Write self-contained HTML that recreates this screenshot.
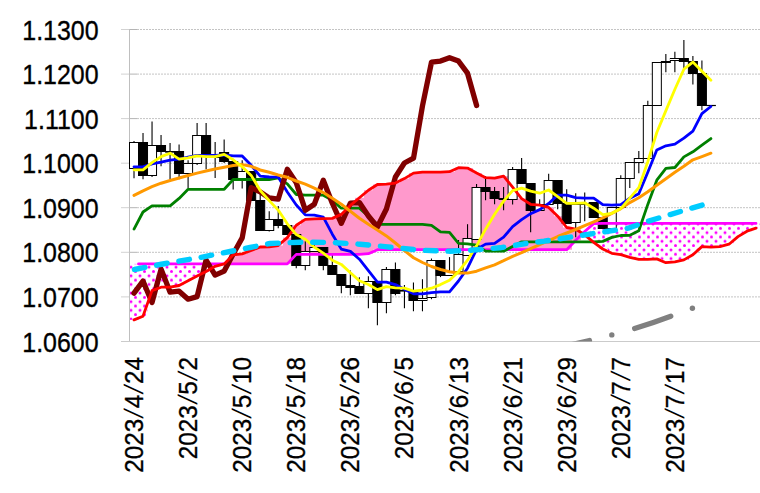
<!DOCTYPE html><html><head><meta charset="utf-8"><title>chart</title><style>
html,body{margin:0;padding:0;background:#fff}body{width:760px;height:493px;overflow:hidden;position:relative;font-family:"Liberation Sans","Noto Sans CJK JP",sans-serif;color:#000}
svg{position:absolute;left:0;top:0}
.yl{position:absolute;left:0;width:98.6px;transform-origin:100% 50%;transform:scale(1.04,1.15);text-align:right;font-size:24px;line-height:24px;height:24px;white-space:nowrap;-webkit-text-stroke:0.3px #000}
.xl{position:absolute;width:140px;text-align:right;font-size:24px;line-height:24px;height:24px;white-space:nowrap;transform-origin:50% 50%;transform:rotate(-90deg) scale(1.014,1.11);-webkit-text-stroke:0.3px #000}
.xl i{font-style:normal;display:inline-block;width:10.4px;text-align:center;transform:skewX(-13deg);-webkit-text-stroke:0}
</style></head><body>
<svg width="760" height="493" viewBox="0 0 760 493">
<defs><pattern id="dots" x="644" y="224.0" width="9" height="8.63" patternUnits="userSpaceOnUse"><rect width="9" height="8.63" fill="#fff"/><circle cx="4.5" cy="4.3" r="1.5" fill="#ff00ff"/><circle cx="0" cy="0" r="1.5" fill="#ff00ff"/><circle cx="9" cy="0" r="1.5" fill="#ff00ff"/><circle cx="0" cy="8.63" r="1.5" fill="#ff00ff"/><circle cx="9" cy="8.63" r="1.5" fill="#ff00ff"/></pattern>
<clipPath id="plot"><rect x="130" y="0" width="630" height="341.4"/></clipPath></defs>
<line x1="121" x2="129" y1="29.5" y2="29.5" stroke="#d2d2d2" stroke-width="1"/>
<line x1="129" x2="137" y1="29.5" y2="29.5" stroke="#b4b4b4" stroke-width="1"/>
<line x1="137" x2="760" y1="29.5" y2="29.5" stroke="#c4c4c4" stroke-width="1" stroke-dasharray="2 1"/>
<line x1="121" x2="129" y1="74.1" y2="74.1" stroke="#d2d2d2" stroke-width="1"/>
<line x1="129" x2="137" y1="74.1" y2="74.1" stroke="#b4b4b4" stroke-width="1"/>
<line x1="137" x2="760" y1="74.1" y2="74.1" stroke="#c4c4c4" stroke-width="1" stroke-dasharray="2 1"/>
<line x1="121" x2="129" y1="118.6" y2="118.6" stroke="#d2d2d2" stroke-width="1"/>
<line x1="129" x2="137" y1="118.6" y2="118.6" stroke="#b4b4b4" stroke-width="1"/>
<line x1="137" x2="760" y1="118.6" y2="118.6" stroke="#c4c4c4" stroke-width="1" stroke-dasharray="2 1"/>
<line x1="121" x2="129" y1="163.2" y2="163.2" stroke="#d2d2d2" stroke-width="1"/>
<line x1="129" x2="137" y1="163.2" y2="163.2" stroke="#b4b4b4" stroke-width="1"/>
<line x1="137" x2="760" y1="163.2" y2="163.2" stroke="#c4c4c4" stroke-width="1" stroke-dasharray="2 1"/>
<line x1="121" x2="129" y1="207.7" y2="207.7" stroke="#d2d2d2" stroke-width="1"/>
<line x1="129" x2="137" y1="207.7" y2="207.7" stroke="#b4b4b4" stroke-width="1"/>
<line x1="137" x2="760" y1="207.7" y2="207.7" stroke="#c4c4c4" stroke-width="1" stroke-dasharray="2 1"/>
<line x1="121" x2="129" y1="252.3" y2="252.3" stroke="#d2d2d2" stroke-width="1"/>
<line x1="129" x2="137" y1="252.3" y2="252.3" stroke="#b4b4b4" stroke-width="1"/>
<line x1="137" x2="760" y1="252.3" y2="252.3" stroke="#c4c4c4" stroke-width="1" stroke-dasharray="2 1"/>
<line x1="121" x2="129" y1="296.9" y2="296.9" stroke="#d2d2d2" stroke-width="1"/>
<line x1="129" x2="137" y1="296.9" y2="296.9" stroke="#b4b4b4" stroke-width="1"/>
<line x1="137" x2="760" y1="296.9" y2="296.9" stroke="#c4c4c4" stroke-width="1" stroke-dasharray="2 1"/>
<line x1="129.5" x2="129.5" y1="29" y2="342" stroke="#bfbfbf" stroke-width="1"/>
<line x1="121" x2="760" y1="341.5" y2="341.5" stroke="#cbcbcb" stroke-width="1"/>
<rect x="130" y="263.9" width="9" height="56.0" fill="url(#dots)"/>
<rect x="139" y="263.9" width="9" height="52.4" fill="url(#dots)"/>
<rect x="148" y="263.9" width="9" height="26.7" fill="url(#dots)"/>
<rect x="157" y="263.9" width="9" height="23.3" fill="url(#dots)"/>
<rect x="166" y="263.9" width="9" height="23.2" fill="url(#dots)"/>
<rect x="175" y="263.9" width="9" height="21.6" fill="url(#dots)"/>
<rect x="184" y="263.9" width="9" height="16.9" fill="url(#dots)"/>
<rect x="193" y="263.9" width="9" height="12.1" fill="url(#dots)"/>
<rect x="202" y="263.9" width="9" height="7.6" fill="url(#dots)"/>
<rect x="211" y="263.9" width="9" height="2.4" fill="url(#dots)"/>
<rect x="220" y="263.9" width="9" height="0.0" fill="url(#dots)"/>
<rect x="229" y="254.8" width="9" height="9.1" fill="#ff99cc"/>
<rect x="238" y="253.9" width="9" height="10.0" fill="#ff99cc"/>
<rect x="247" y="250.5" width="9" height="13.4" fill="#ff99cc"/>
<rect x="256" y="247.0" width="9" height="16.9" fill="#ff99cc"/>
<rect x="265" y="246.8" width="9" height="17.1" fill="#ff99cc"/>
<rect x="274" y="245.5" width="9" height="18.4" fill="#ff99cc"/>
<rect x="283" y="237.6" width="9" height="26.3" fill="#ff99cc"/>
<rect x="292" y="225.2" width="9" height="29.2" fill="#ff99cc"/>
<rect x="301" y="219.4" width="9" height="35.0" fill="#ff99cc"/>
<rect x="310" y="218.9" width="9" height="35.5" fill="#ff99cc"/>
<rect x="319" y="218.7" width="9" height="35.7" fill="#ff99cc"/>
<rect x="328" y="218.4" width="9" height="36.0" fill="#ff99cc"/>
<rect x="337" y="214.4" width="9" height="40.0" fill="#ff99cc"/>
<rect x="346" y="205.4" width="9" height="49.0" fill="#ff99cc"/>
<rect x="355" y="197.8" width="9" height="56.6" fill="#ff99cc"/>
<rect x="364" y="190.2" width="9" height="63.5" fill="#ff99cc"/>
<rect x="373" y="184.5" width="9" height="65.2" fill="#ff99cc"/>
<rect x="382" y="184.1" width="9" height="65.6" fill="#ff99cc"/>
<rect x="391" y="183.1" width="9" height="66.6" fill="#ff99cc"/>
<rect x="400" y="178.6" width="9" height="71.1" fill="#ff99cc"/>
<rect x="409" y="173.1" width="9" height="76.6" fill="#ff99cc"/>
<rect x="418" y="172.1" width="9" height="77.6" fill="#ff99cc"/>
<rect x="427" y="172.1" width="9" height="77.6" fill="#ff99cc"/>
<rect x="436" y="172.1" width="10" height="77.6" fill="#ff99cc"/>
<rect x="446" y="171.7" width="9" height="78.0" fill="#ff99cc"/>
<rect x="455" y="167.7" width="9" height="82.0" fill="#ff99cc"/>
<rect x="464" y="168.1" width="9" height="81.6" fill="#ff99cc"/>
<rect x="473" y="173.1" width="9" height="76.6" fill="#ff99cc"/>
<rect x="482" y="177.7" width="9" height="72.0" fill="#ff99cc"/>
<rect x="491" y="178.1" width="9" height="71.6" fill="#ff99cc"/>
<rect x="500" y="176.1" width="9" height="73.6" fill="#ff99cc"/>
<rect x="509" y="187.1" width="9" height="62.6" fill="#ff99cc"/>
<rect x="518" y="198.6" width="9" height="51.1" fill="#ff99cc"/>
<rect x="527" y="204.3" width="9" height="45.4" fill="#ff99cc"/>
<rect x="536" y="205.2" width="9" height="44.5" fill="#ff99cc"/>
<rect x="545" y="207.4" width="9" height="42.3" fill="#ff99cc"/>
<rect x="554" y="216.2" width="9" height="33.5" fill="#ff99cc"/>
<rect x="563" y="227.5" width="9" height="22.2" fill="#ff99cc"/>
<rect x="572" y="229.2" width="9" height="11.1" fill="#ff99cc"/>
<rect x="581" y="231.5" width="9" height="3.3" fill="url(#dots)"/>
<rect x="590" y="223.6" width="9" height="18.7" fill="url(#dots)"/>
<rect x="599" y="223.4" width="9" height="25.6" fill="url(#dots)"/>
<rect x="608" y="223.4" width="9" height="29.9" fill="url(#dots)"/>
<rect x="617" y="223.4" width="9" height="31.3" fill="url(#dots)"/>
<rect x="626" y="223.4" width="9" height="33.9" fill="url(#dots)"/>
<rect x="635" y="223.4" width="9" height="35.9" fill="url(#dots)"/>
<rect x="644" y="223.4" width="9" height="35.9" fill="url(#dots)"/>
<rect x="653" y="223.4" width="9" height="35.5" fill="url(#dots)"/>
<rect x="662" y="223.4" width="9" height="39.3" fill="url(#dots)"/>
<rect x="671" y="223.4" width="9" height="38.5" fill="url(#dots)"/>
<rect x="680" y="223.4" width="9" height="36.5" fill="url(#dots)"/>
<rect x="689" y="223.4" width="9" height="31.3" fill="url(#dots)"/>
<rect x="698" y="223.4" width="9" height="23.2" fill="url(#dots)"/>
<rect x="707" y="223.4" width="9" height="23.8" fill="url(#dots)"/>
<rect x="716" y="223.4" width="9" height="23.2" fill="url(#dots)"/>
<rect x="725" y="223.4" width="9" height="20.8" fill="url(#dots)"/>
<rect x="734" y="223.4" width="9" height="13.2" fill="url(#dots)"/>
<rect x="743" y="223.4" width="9" height="7.8" fill="url(#dots)"/>
<rect x="752" y="223.4" width="9" height="4.8" fill="url(#dots)"/>
<line x1="134.01" x2="134.01" y1="141.0" y2="178.3" stroke="#000" stroke-width="1.1"/>
<rect x="129.50" y="142.5" width="9.01" height="26.0" fill="#fff" stroke="#000" stroke-width="1"/>
<line x1="143.02" x2="143.02" y1="133.1" y2="179.3" stroke="#000" stroke-width="1.1"/>
<rect x="138.51" y="142.5" width="9.01" height="33.0" fill="#000" stroke="#000" stroke-width="1"/>
<line x1="152.04" x2="152.04" y1="121.4" y2="176.9" stroke="#000" stroke-width="1.1"/>
<rect x="147.53" y="145.5" width="9.01" height="30.0" fill="#fff" stroke="#000" stroke-width="1"/>
<line x1="161.05" x2="161.05" y1="135.1" y2="166.2" stroke="#000" stroke-width="1.1"/>
<rect x="156.54" y="145.5" width="9.01" height="6.0" fill="#000" stroke="#000" stroke-width="1"/>
<line x1="170.06" x2="170.06" y1="143.1" y2="179.3" stroke="#000" stroke-width="1.1"/>
<rect x="165.56" y="151.5" width="9.01" height="0.6" fill="#000" stroke="#000" stroke-width="1"/>
<line x1="179.08" x2="179.08" y1="144.5" y2="179.3" stroke="#000" stroke-width="1.1"/>
<rect x="174.57" y="151.5" width="9.01" height="22.0" fill="#000" stroke="#000" stroke-width="1"/>
<line x1="188.09" x2="188.09" y1="160.2" y2="188.3" stroke="#000" stroke-width="1.1"/>
<rect x="183.59" y="163.5" width="9.01" height="10.0" fill="#fff" stroke="#000" stroke-width="1"/>
<line x1="197.11" x2="197.11" y1="123.1" y2="165.0" stroke="#000" stroke-width="1.1"/>
<rect x="192.60" y="135.5" width="9.01" height="28.0" fill="#fff" stroke="#000" stroke-width="1"/>
<line x1="206.12" x2="206.12" y1="123.1" y2="169.3" stroke="#000" stroke-width="1.1"/>
<rect x="201.61" y="135.5" width="9.01" height="21.0" fill="#000" stroke="#000" stroke-width="1"/>
<line x1="215.14" x2="215.14" y1="142.1" y2="178.0" stroke="#000" stroke-width="1.1"/>
<rect x="210.63" y="155.5" width="9.01" height="2.0" fill="#000" stroke="#000" stroke-width="1"/>
<line x1="224.15" x2="224.15" y1="139.5" y2="163.0" stroke="#000" stroke-width="1.1"/>
<rect x="219.64" y="152.5" width="9.01" height="9.0" fill="#000" stroke="#000" stroke-width="1"/>
<line x1="233.16" x2="233.16" y1="161.2" y2="189.5" stroke="#000" stroke-width="1.1"/>
<rect x="228.66" y="161.5" width="9.01" height="18.0" fill="#000" stroke="#000" stroke-width="1"/>
<line x1="242.18" x2="242.18" y1="160.2" y2="188.5" stroke="#000" stroke-width="1.1"/>
<rect x="237.67" y="171.5" width="9.01" height="8.0" fill="#fff" stroke="#000" stroke-width="1"/>
<line x1="251.19" x2="251.19" y1="171.3" y2="200.4" stroke="#000" stroke-width="1.1"/>
<rect x="246.69" y="171.5" width="9.01" height="29.0" fill="#000" stroke="#000" stroke-width="1"/>
<line x1="260.21" x2="260.21" y1="193.8" y2="231.0" stroke="#000" stroke-width="1.1"/>
<rect x="255.70" y="200.5" width="9.01" height="30.0" fill="#000" stroke="#000" stroke-width="1"/>
<line x1="269.22" x2="269.22" y1="211.2" y2="231.5" stroke="#000" stroke-width="1.1"/>
<rect x="264.71" y="219.5" width="9.01" height="11.0" fill="#fff" stroke="#000" stroke-width="1"/>
<line x1="278.24" x2="278.24" y1="206.0" y2="228.2" stroke="#000" stroke-width="1.1"/>
<rect x="273.73" y="219.5" width="9.01" height="6.0" fill="#000" stroke="#000" stroke-width="1"/>
<line x1="287.25" x2="287.25" y1="225.3" y2="234.5" stroke="#000" stroke-width="1.1"/>
<rect x="282.74" y="225.5" width="9.01" height="9.0" fill="#000" stroke="#000" stroke-width="1"/>
<line x1="296.26" x2="296.26" y1="234.5" y2="268.3" stroke="#000" stroke-width="1.1"/>
<rect x="291.76" y="234.5" width="9.01" height="31.0" fill="#000" stroke="#000" stroke-width="1"/>
<line x1="305.28" x2="305.28" y1="241.2" y2="270.3" stroke="#000" stroke-width="1.1"/>
<rect x="300.77" y="251.5" width="9.01" height="14.0" fill="#fff" stroke="#000" stroke-width="1"/>
<line x1="314.29" x2="314.29" y1="240.2" y2="252.0" stroke="#000" stroke-width="1.1"/>
<rect x="309.79" y="247.5" width="9.01" height="4.0" fill="#fff" stroke="#000" stroke-width="1"/>
<line x1="323.31" x2="323.31" y1="247.2" y2="270.3" stroke="#000" stroke-width="1.1"/>
<rect x="318.80" y="247.5" width="9.01" height="18.0" fill="#000" stroke="#000" stroke-width="1"/>
<line x1="332.32" x2="332.32" y1="253.2" y2="274.3" stroke="#000" stroke-width="1.1"/>
<rect x="327.81" y="265.5" width="9.01" height="9.0" fill="#000" stroke="#000" stroke-width="1"/>
<line x1="341.34" x2="341.34" y1="274.3" y2="293.3" stroke="#000" stroke-width="1.1"/>
<rect x="336.83" y="274.5" width="9.01" height="11.0" fill="#000" stroke="#000" stroke-width="1"/>
<line x1="350.35" x2="350.35" y1="270.5" y2="295.3" stroke="#000" stroke-width="1.1"/>
<rect x="345.84" y="285.5" width="9.01" height="2.0" fill="#000" stroke="#000" stroke-width="1"/>
<line x1="359.36" x2="359.36" y1="277.2" y2="293.6" stroke="#000" stroke-width="1.1"/>
<rect x="354.86" y="286.5" width="9.01" height="7.0" fill="#000" stroke="#000" stroke-width="1"/>
<line x1="368.38" x2="368.38" y1="276.2" y2="308.3" stroke="#000" stroke-width="1.1"/>
<rect x="363.87" y="281.5" width="9.01" height="12.0" fill="#fff" stroke="#000" stroke-width="1"/>
<line x1="377.39" x2="377.39" y1="281.5" y2="325.3" stroke="#000" stroke-width="1.1"/>
<rect x="372.89" y="281.5" width="9.01" height="21.0" fill="#000" stroke="#000" stroke-width="1"/>
<line x1="386.41" x2="386.41" y1="267.1" y2="313.3" stroke="#000" stroke-width="1.1"/>
<rect x="381.90" y="269.5" width="9.01" height="33.0" fill="#fff" stroke="#000" stroke-width="1"/>
<line x1="395.42" x2="395.42" y1="262.5" y2="295.2" stroke="#000" stroke-width="1.1"/>
<rect x="390.91" y="269.5" width="9.01" height="24.0" fill="#000" stroke="#000" stroke-width="1"/>
<line x1="404.44" x2="404.44" y1="285.0" y2="308.3" stroke="#000" stroke-width="1.1"/>
<rect x="399.93" y="290.5" width="9.01" height="0.6" fill="#fff" stroke="#000" stroke-width="1"/>
<line x1="413.45" x2="413.45" y1="282.6" y2="311.3" stroke="#000" stroke-width="1.1"/>
<rect x="408.94" y="292.5" width="9.01" height="8.0" fill="#000" stroke="#000" stroke-width="1"/>
<line x1="422.46" x2="422.46" y1="279.2" y2="311.3" stroke="#000" stroke-width="1.1"/>
<rect x="417.96" y="298.5" width="9.01" height="2.0" fill="#fff" stroke="#000" stroke-width="1"/>
<line x1="431.48" x2="431.48" y1="258.5" y2="299.2" stroke="#000" stroke-width="1.1"/>
<rect x="426.97" y="260.5" width="9.01" height="37.0" fill="#fff" stroke="#000" stroke-width="1"/>
<line x1="440.49" x2="440.49" y1="260.1" y2="277.1" stroke="#000" stroke-width="1.1"/>
<rect x="435.99" y="260.5" width="9.01" height="15.0" fill="#000" stroke="#000" stroke-width="1"/>
<line x1="449.51" x2="449.51" y1="257.1" y2="275.5" stroke="#000" stroke-width="1.1"/>
<rect x="445.00" y="271.5" width="9.01" height="4.0" fill="#fff" stroke="#000" stroke-width="1"/>
<line x1="458.52" x2="458.52" y1="240.0" y2="271.1" stroke="#000" stroke-width="1.1"/>
<rect x="454.01" y="254.5" width="9.01" height="17.0" fill="#fff" stroke="#000" stroke-width="1"/>
<line x1="467.54" x2="467.54" y1="224.2" y2="255.0" stroke="#000" stroke-width="1.1"/>
<rect x="463.03" y="238.5" width="9.01" height="17.0" fill="#fff" stroke="#000" stroke-width="1"/>
<line x1="476.55" x2="476.55" y1="184.1" y2="239.0" stroke="#000" stroke-width="1.1"/>
<rect x="472.04" y="187.5" width="9.01" height="52.0" fill="#fff" stroke="#000" stroke-width="1"/>
<line x1="485.56" x2="485.56" y1="176.1" y2="200.2" stroke="#000" stroke-width="1.1"/>
<rect x="481.06" y="187.5" width="9.01" height="4.0" fill="#000" stroke="#000" stroke-width="1"/>
<line x1="494.58" x2="494.58" y1="187.1" y2="204.2" stroke="#000" stroke-width="1.1"/>
<rect x="490.07" y="191.5" width="9.01" height="7.0" fill="#000" stroke="#000" stroke-width="1"/>
<line x1="503.59" x2="503.59" y1="187.1" y2="210.2" stroke="#000" stroke-width="1.1"/>
<rect x="499.09" y="198.5" width="9.01" height="1.0" fill="#000" stroke="#000" stroke-width="1"/>
<line x1="512.61" x2="512.61" y1="167.1" y2="204.6" stroke="#000" stroke-width="1.1"/>
<rect x="508.10" y="169.5" width="9.01" height="30.0" fill="#fff" stroke="#000" stroke-width="1"/>
<line x1="521.62" x2="521.62" y1="158.0" y2="183.1" stroke="#000" stroke-width="1.1"/>
<rect x="517.11" y="169.5" width="9.01" height="14.0" fill="#000" stroke="#000" stroke-width="1"/>
<line x1="530.64" x2="530.64" y1="183.1" y2="232.3" stroke="#000" stroke-width="1.1"/>
<rect x="526.13" y="183.5" width="9.01" height="27.0" fill="#000" stroke="#000" stroke-width="1"/>
<line x1="539.65" x2="539.65" y1="199.2" y2="210.2" stroke="#000" stroke-width="1.1"/>
<rect x="535.14" y="204.5" width="9.01" height="6.0" fill="#fff" stroke="#000" stroke-width="1"/>
<line x1="548.66" x2="548.66" y1="173.7" y2="204.2" stroke="#000" stroke-width="1.1"/>
<rect x="544.16" y="180.5" width="9.01" height="24.0" fill="#fff" stroke="#000" stroke-width="1"/>
<line x1="557.68" x2="557.68" y1="180.3" y2="209.2" stroke="#000" stroke-width="1.1"/>
<rect x="553.17" y="180.5" width="9.01" height="23.0" fill="#000" stroke="#000" stroke-width="1"/>
<line x1="566.69" x2="566.69" y1="189.2" y2="223.3" stroke="#000" stroke-width="1.1"/>
<rect x="562.19" y="203.5" width="9.01" height="20.0" fill="#000" stroke="#000" stroke-width="1"/>
<line x1="575.71" x2="575.71" y1="193.2" y2="237.3" stroke="#000" stroke-width="1.1"/>
<rect x="571.20" y="204.5" width="9.01" height="18.0" fill="#fff" stroke="#000" stroke-width="1"/>
<line x1="584.72" x2="584.72" y1="192.6" y2="221.3" stroke="#000" stroke-width="1.1"/>
<rect x="580.22" y="203.5" width="9.01" height="1.0" fill="#fff" stroke="#000" stroke-width="1"/>
<line x1="593.74" x2="593.74" y1="202.0" y2="217.0" stroke="#000" stroke-width="1.1"/>
<rect x="589.23" y="202.5" width="9.01" height="15.0" fill="#000" stroke="#000" stroke-width="1"/>
<line x1="602.75" x2="602.75" y1="217.0" y2="228.0" stroke="#000" stroke-width="1.1"/>
<rect x="598.24" y="217.5" width="9.01" height="11.0" fill="#000" stroke="#000" stroke-width="1"/>
<line x1="611.77" x2="611.77" y1="207.5" y2="228.0" stroke="#000" stroke-width="1.1"/>
<rect x="607.26" y="207.5" width="9.01" height="21.0" fill="#fff" stroke="#000" stroke-width="1"/>
<line x1="620.78" x2="620.78" y1="175.2" y2="207.5" stroke="#000" stroke-width="1.1"/>
<rect x="616.27" y="178.5" width="9.01" height="29.0" fill="#fff" stroke="#000" stroke-width="1"/>
<line x1="629.79" x2="629.79" y1="162.5" y2="188.0" stroke="#000" stroke-width="1.1"/>
<rect x="625.29" y="162.5" width="9.01" height="16.0" fill="#fff" stroke="#000" stroke-width="1"/>
<line x1="638.81" x2="638.81" y1="151.1" y2="173.2" stroke="#000" stroke-width="1.1"/>
<rect x="634.30" y="158.5" width="9.01" height="4.0" fill="#fff" stroke="#000" stroke-width="1"/>
<line x1="647.82" x2="647.82" y1="100.8" y2="158.8" stroke="#000" stroke-width="1.1"/>
<rect x="643.32" y="105.5" width="9.01" height="53.0" fill="#fff" stroke="#000" stroke-width="1"/>
<line x1="656.84" x2="656.84" y1="62.1" y2="105.7" stroke="#000" stroke-width="1.1"/>
<rect x="652.33" y="62.5" width="9.01" height="43.0" fill="#fff" stroke="#000" stroke-width="1"/>
<line x1="665.85" x2="665.85" y1="54.1" y2="72.2" stroke="#000" stroke-width="1.1"/>
<rect x="661.34" y="61.5" width="9.01" height="1.0" fill="#fff" stroke="#000" stroke-width="1"/>
<line x1="674.87" x2="674.87" y1="51.7" y2="72.2" stroke="#000" stroke-width="1.1"/>
<rect x="670.36" y="58.5" width="9.01" height="2.0" fill="#fff" stroke="#000" stroke-width="1"/>
<line x1="683.88" x2="683.88" y1="40.0" y2="69.2" stroke="#000" stroke-width="1.1"/>
<rect x="679.37" y="58.5" width="9.01" height="3.0" fill="#000" stroke="#000" stroke-width="1"/>
<line x1="692.89" x2="692.89" y1="56.1" y2="84.6" stroke="#000" stroke-width="1.1"/>
<rect x="688.39" y="61.5" width="9.01" height="12.0" fill="#000" stroke="#000" stroke-width="1"/>
<line x1="701.91" x2="701.91" y1="60.5" y2="110.3" stroke="#000" stroke-width="1.1"/>
<rect x="697.40" y="73.5" width="9.01" height="32.0" fill="#000" stroke="#000" stroke-width="1"/>
<line x1="706.4" x2="715.9" y1="105.5" y2="105.5" stroke="#000" stroke-width="1.2"/>
<g fill="none" stroke-linejoin="round" stroke-linecap="round" clip-path="url(#plot)">
<polyline points="138.5,263.9 143.0,263.9 152.0,263.9 161.1,263.9 170.1,263.9 179.1,263.9 188.1,263.9 197.1,263.9 206.1,263.9 215.1,263.9 224.2,263.9 233.2,263.9 242.2,263.9 251.2,263.9 260.2,263.9 269.2,263.9 278.2,263.9 287.3,263.9 296.3,254.4 305.3,254.4 314.3,254.4 323.3,254.4 332.3,254.4 341.3,254.4 350.4,254.4 359.4,254.4 368.4,253.7 377.4,249.7 386.4,249.7 395.4,249.7 404.4,249.7 413.5,249.7 422.5,249.7 431.5,249.7 440.5,249.7 449.5,249.7 458.5,249.7 467.5,249.7 476.6,249.7 485.6,249.7 494.6,249.7 503.6,249.7 512.6,249.7 521.6,249.7 530.6,249.7 539.7,249.7 548.7,249.7 557.7,249.7 566.7,249.7 575.7,240.3 584.7,231.5 593.7,223.6 602.8,223.4 611.8,223.4 620.8,223.4 629.8,223.4 638.8,223.4 647.8,223.4 656.8,223.4 665.9,223.4 674.9,223.4 683.9,223.4 692.9,223.4 701.9,223.4 710.9,223.4 719.9,223.4 729.0,223.4 738.0,223.4 747.0,223.4 756.0,223.4" stroke="#ff00ff" stroke-width="2.8"/>
<polyline points="134.0,229.1 143.0,212.0 152.0,205.8 161.1,205.8 170.1,205.8 179.1,198.4 188.1,189.3 197.1,189.3 206.1,189.3 215.1,189.3 224.2,189.3 233.2,179.5 242.2,179.5 251.2,179.5 260.2,179.5 269.2,179.5 278.2,177.8 287.3,183.9 296.3,194.5 305.3,195.2 314.3,195.2 323.3,195.2 332.3,200.2 341.3,208.2 350.4,208.2 359.4,208.2 368.4,216.3 377.4,224.3 386.4,224.3 395.4,224.3 404.4,224.3 413.5,224.3 422.5,224.3 431.5,225.3 440.5,231.9 449.5,232.3 458.5,243.3 467.5,243.8 476.6,245.2 485.6,251.2 494.6,251.2 503.6,251.2 512.6,246.5 521.6,241.8 530.6,241.8 539.7,241.8 548.7,241.8 557.7,241.8 566.7,241.8 575.7,241.8 584.7,241.8 593.7,241.8 602.8,241.4 611.8,237.4 620.8,235.5 629.8,235.3 638.8,230.8 647.8,204.4 656.8,180.2 665.9,168.4 674.9,167.5 683.9,156.9 692.9,151.8 701.9,145.2 710.9,138.6" stroke="#008000" stroke-width="2.8"/>
<polyline points="134.0,166.8 143.0,166.8 152.0,163.8 161.1,162.2 170.1,160.2 179.1,159.2 188.1,157.2 197.1,155.4 206.1,155.4 215.1,155.4 224.2,155.0 233.2,155.8 242.2,156.0 251.2,165.3 260.2,176.2 269.2,177.0 278.2,177.1 287.3,192.0 296.3,205.0 305.3,214.9 314.3,215.2 323.3,217.2 332.3,234.2 341.3,249.1 350.4,251.4 359.4,259.2 368.4,270.7 377.4,282.0 386.4,282.2 395.4,284.6 404.4,289.2 413.5,293.8 422.5,293.8 431.5,292.6 440.5,291.8 449.5,291.8 458.5,281.0 467.5,268.2 476.6,249.3 485.6,244.1 494.6,243.3 503.6,237.2 512.6,226.7 521.6,219.7 530.6,213.7 539.7,209.6 548.7,203.5 557.7,195.1 566.7,195.1 575.7,197.7 584.7,198.1 593.7,198.1 602.8,204.6 611.8,205.2 620.8,204.6 629.8,198.2 638.8,193.8 647.8,172.2 656.8,150.0 665.9,145.8 674.9,144.2 683.9,138.2 692.9,131.1 701.9,113.7 710.9,106.5" stroke="#0000ff" stroke-width="2.8"/>
<polyline points="134.0,293.2 143.0,281.1 152.0,302.6 161.1,269.1 170.1,292.2 179.1,291.2 188.1,299.2 197.1,296.6 206.1,260.0 215.1,275.1 224.2,271.1 233.2,254.0 242.2,237.9 251.2,187.7 260.2,191.9 269.2,198.0 278.2,199.2 287.3,169.2 296.3,182.8 305.3,210.2 314.3,204.2 323.3,180.2 332.3,203.2 341.3,223.3 350.4,203.2 359.4,202.6 368.4,216.0 377.4,227.0 386.4,209.0 395.4,177.0 404.4,163.0 413.5,158.2 422.5,105.7 431.5,62.1 440.5,61.1 449.5,57.7 458.5,61.1 467.5,73.2 476.6,105.5" stroke="#800000" stroke-width="5.3"/>
<polyline points="134.0,319.9 143.0,316.3 152.0,290.6 161.1,287.2 170.1,287.1 179.1,285.5 188.1,280.8 197.1,276.0 206.1,271.5 215.1,266.3 224.2,263.9 233.2,254.8 242.2,253.9 251.2,250.5 260.2,247.0 269.2,246.8 278.2,245.5 287.3,237.6 296.3,225.2 305.3,219.4 314.3,218.9 323.3,218.7 332.3,218.4 341.3,214.4 350.4,205.4 359.4,197.8 368.4,190.2 377.4,184.5 386.4,184.1 395.4,183.1 404.4,178.6 413.5,173.1 422.5,172.1 431.5,172.1 440.5,172.1 449.5,171.7 458.5,167.7 467.5,168.1 476.6,173.1 485.6,177.7 494.6,178.1 503.6,176.1 512.6,187.1 521.6,198.6 530.6,204.3 539.7,205.2 548.7,207.4 557.7,216.2 566.7,227.5 575.7,229.2 584.7,234.8 593.7,242.3 602.8,249.0 611.8,253.3 620.8,254.7 629.8,257.3 638.8,259.3 647.8,259.3 656.8,258.9 665.9,262.7 674.9,261.9 683.9,259.9 692.9,254.7 701.9,246.6 710.9,247.2 719.9,246.6 729.0,244.2 738.0,236.6 747.0,231.2 756.0,228.2" stroke="#ff0000" stroke-width="2.8"/>
<polyline points="134.0,195.4 143.0,190.8 152.0,186.7 161.1,183.2 170.1,180.5 179.1,178.0 188.1,175.5 197.1,173.1 206.1,171.0 215.1,169.0 224.2,167.2 233.2,165.6 242.2,164.6 251.2,166.3 260.2,170.0 269.2,172.3 278.2,175.0 287.3,177.3 296.3,181.0 305.3,184.1 314.3,188.2 323.3,192.6 332.3,198.2 341.3,204.2 350.4,211.2 359.4,218.3 368.4,224.3 377.4,229.9 386.4,235.9 395.4,243.0 404.4,250.5 413.5,257.7 422.5,262.5 431.5,266.5 440.5,269.5 449.5,271.8 458.5,272.9 467.5,273.1 476.6,271.2 485.6,267.9 494.6,264.8 503.6,260.7 512.6,256.3 521.6,252.7 530.6,248.6 539.7,244.6 548.7,240.6 557.7,236.5 566.7,233.0 575.7,229.5 584.7,225.6 593.7,221.8 602.8,217.9 611.8,213.3 620.8,208.6 629.8,202.6 638.8,197.8 647.8,191.8 656.8,185.2 665.9,178.7 674.9,172.2 683.9,166.2 692.9,159.8 701.9,156.6 710.9,153.2" stroke="#ff9900" stroke-width="3.0"/>
<polyline points="134.0,169.8 143.0,169.8 152.0,162.6 161.1,156.6 170.1,153.2 179.1,159.2 188.1,157.8 197.1,155.8 206.1,156.7 215.1,156.7 224.2,154.4 233.2,159.8 242.2,166.8 251.2,175.4 260.2,190.5 269.2,200.6 278.2,210.1 287.3,223.8 296.3,234.6 305.3,239.3 314.3,247.2 323.3,253.2 332.3,260.2 341.3,264.4 350.4,272.7 359.4,280.8 368.4,284.5 377.4,289.6 386.4,286.6 395.4,287.8 404.4,288.2 413.5,291.2 422.5,290.2 431.5,288.2 440.5,284.6 449.5,280.2 458.5,271.7 467.5,260.2 476.6,245.8 485.6,229.2 494.6,214.2 503.6,201.1 512.6,190.6 521.6,188.2 530.6,191.2 539.7,193.2 548.7,190.0 557.7,196.6 566.7,203.4 575.7,203.4 584.7,202.8 593.7,208.2 602.8,214.7 611.8,213.3 620.8,208.6 629.8,198.2 638.8,187.7 647.8,161.6 656.8,132.5 665.9,110.6 674.9,89.2 683.9,69.2 692.9,62.1 701.9,71.2 710.9,80.2" stroke="#ffff00" stroke-width="2.8"/>
<polyline points="130.0,270.2 134.5,269.5 160.0,264.5 200.0,257.5 230.0,251.5 250.0,247.5 270.0,243.5 300.0,242.2 330.0,242.4 360.0,244.2 385.0,246.6 420.0,250.2 450.0,251.2 470.0,250.3 500.0,247.8 524.0,243.8 544.0,241.2 570.0,237.2 600.0,232.5 628.0,228.2 648.0,221.2 668.0,215.2 688.0,209.2 705.0,204.3" stroke="#00ccff" stroke-width="5.4" stroke-dasharray="10.7 11.9" stroke-dashoffset="-4.5"/>
<polyline points="552.0,349.1 589.5,340.5" stroke="#808080" stroke-width="5.2"/>
<circle cx="611.8" cy="334.9" r="2.7" fill="#808080" stroke="none"/>
<path d="M634.6,328.6 Q652,323.2 670.8,316.2" stroke="#808080" stroke-width="5.2"/>
<circle cx="692.4" cy="308.3" r="2.7" fill="#808080" stroke="none"/>
</g>
</svg>
<div class="yl" style="top:18.6px">1.1300</div>
<div class="yl" style="top:63.1px">1.1200</div>
<div class="yl" style="top:107.7px">1.1100</div>
<div class="yl" style="top:152.2px">1.1000</div>
<div class="yl" style="top:196.8px">1.0900</div>
<div class="yl" style="top:241.4px">1.0800</div>
<div class="yl" style="top:285.9px">1.0700</div>
<div class="yl" style="top:330.5px">1.0600</div>
<div class="xl" style="left:64.0px;top:416.2px">2023<i>/</i>4<i>/</i>24</div>
<div class="xl" style="left:118.1px;top:416.2px">2023<i>/</i>5<i>/</i>2</div>
<div class="xl" style="left:172.2px;top:416.2px">2023<i>/</i>5<i>/</i>10</div>
<div class="xl" style="left:226.3px;top:416.2px">2023<i>/</i>5<i>/</i>18</div>
<div class="xl" style="left:280.4px;top:416.2px">2023<i>/</i>5<i>/</i>26</div>
<div class="xl" style="left:334.4px;top:416.2px">2023<i>/</i>6<i>/</i>5</div>
<div class="xl" style="left:388.5px;top:416.2px">2023<i>/</i>6<i>/</i>13</div>
<div class="xl" style="left:442.6px;top:416.2px">2023<i>/</i>6<i>/</i>21</div>
<div class="xl" style="left:496.7px;top:416.2px">2023<i>/</i>6<i>/</i>29</div>
<div class="xl" style="left:550.8px;top:416.2px">2023<i>/</i>7<i>/</i>7</div>
<div class="xl" style="left:604.9px;top:416.2px">2023<i>/</i>7<i>/</i>17</div>
</body></html>
